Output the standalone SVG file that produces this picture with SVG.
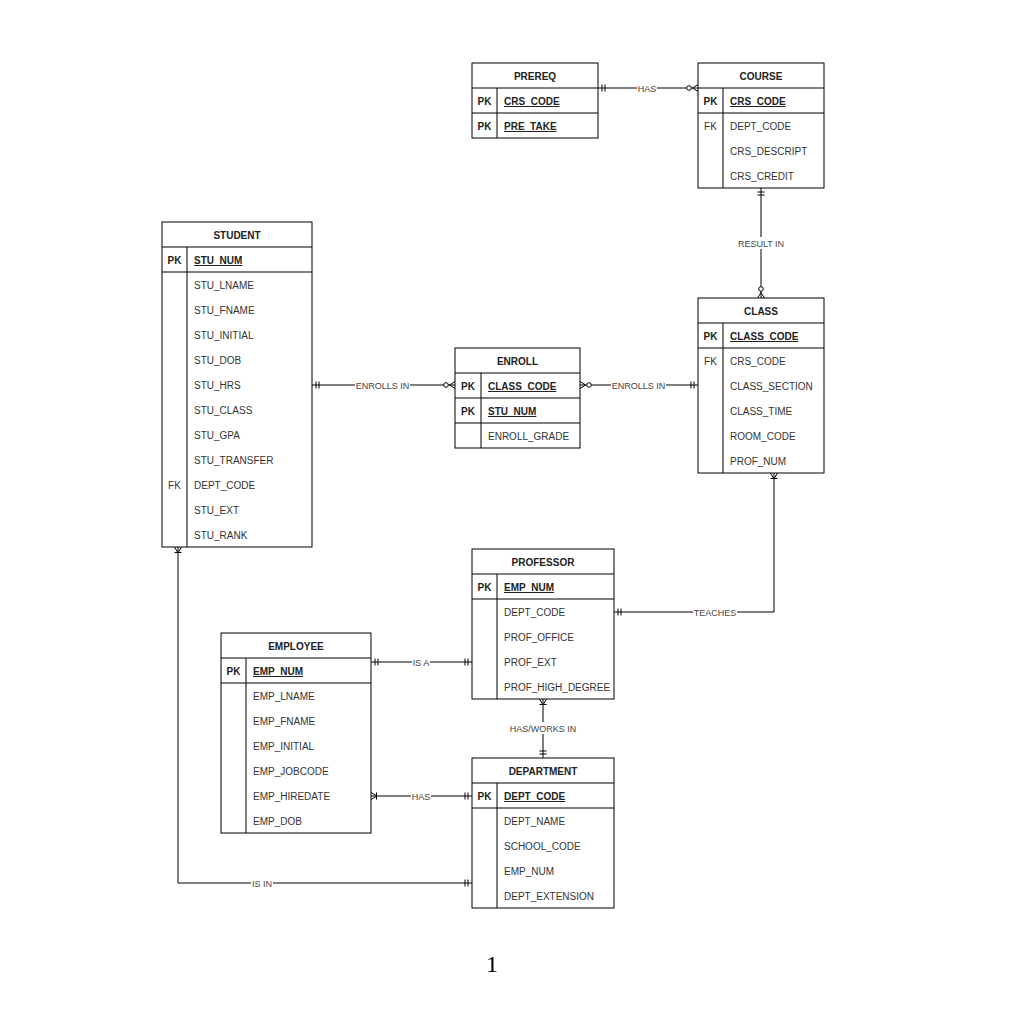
<svg xmlns="http://www.w3.org/2000/svg" width="1022" height="1024" viewBox="0 0 1022 1024">
<style>
.box{fill:#fff;stroke:#000;stroke-width:1}
.ln{stroke:#000;stroke-width:1;fill:none}
.h{font-family:"Liberation Sans",Arial,sans-serif;font-size:10px;font-weight:bold;fill:#222;text-anchor:middle}
.k{font-family:"Liberation Sans",Arial,sans-serif;font-size:10px;font-weight:bold;fill:#222;text-anchor:middle}
.f{font-family:"Liberation Sans",Arial,sans-serif;font-size:10px;fill:#333;text-anchor:middle}
.t{font-family:"Liberation Sans",Arial,sans-serif;font-size:10px;fill:#333}
.pk{font-family:"Liberation Sans",Arial,sans-serif;font-size:10px;fill:#222;font-weight:bold;text-decoration:underline}
.edge{stroke:#000;stroke-width:1;fill:none}
.lb{font-family:"Liberation Sans",Arial,sans-serif;font-size:9px;fill:#444;text-anchor:middle}
.lbg{fill:#fff;stroke:none}
.m{stroke:#000;stroke-width:1;fill:none}
</style>
<defs>
<marker id="one" markerUnits="userSpaceOnUse" viewBox="-15 -7 16 14" markerWidth="16" markerHeight="14" refX="0" refY="0" orient="auto-start-reverse" overflow="visible">
<path class="m" d="M-4,-3.5V3.5M-7,-3.5V3.5"/>
</marker>
<marker id="zmany" markerUnits="userSpaceOnUse" viewBox="-15 -7 16 14" markerWidth="16" markerHeight="14" refX="0" refY="0" orient="auto-start-reverse" overflow="visible">
<path class="m" d="M-5.5,0L0,-3.5M-5.5,0L0,3.5"/>
<circle cx="-9" cy="0" r="2.3" fill="#fff" stroke="#000" stroke-width="1"/>
</marker>
<marker id="omany" markerUnits="userSpaceOnUse" viewBox="-15 -7 16 14" markerWidth="16" markerHeight="14" refX="0" refY="0" orient="auto-start-reverse" overflow="visible">
<path class="m" d="M-6,0L0,-3.5M-6,0L0,3.5M-5.5,-3.5V3.5"/>
</marker>
</defs>
<rect width="1022" height="1024" fill="#fff"/>

<g id="connectors">
<path class="edge" d="M598,88H698" marker-start="url(#one)" marker-end="url(#zmany)"/>
<rect class="lbg" x="637" y="82" width="20" height="12"/>
<text class="lb" x="647" y="91.5">HAS</text>

<path class="edge" d="M761,188V298" marker-start="url(#one)" marker-end="url(#zmany)"/>
<rect class="lbg" x="736" y="237" width="50" height="12"/>
<text class="lb" x="761" y="246.5">RESULT IN</text>

<path class="edge" d="M312,385H455" marker-start="url(#one)" marker-end="url(#zmany)"/>
<rect class="lbg" x="355" y="379" width="55" height="12"/>
<text class="lb" x="382.5" y="388.5">ENROLLS IN</text>

<path class="edge" d="M580,385H698" marker-start="url(#zmany)" marker-end="url(#one)"/>
<rect class="lbg" x="611" y="379" width="55" height="12"/>
<text class="lb" x="638.5" y="388.5">ENROLLS IN</text>

<path class="edge" d="M774,473V612H614" marker-start="url(#omany)" marker-end="url(#one)"/>
<rect class="lbg" x="693" y="606" width="44" height="12"/>
<text class="lb" x="715" y="615.5">TEACHES</text>

<path class="edge" d="M371,662H472" marker-start="url(#one)" marker-end="url(#one)"/>
<rect class="lbg" x="412" y="656" width="18" height="12"/>
<text class="lb" x="421" y="665.5">IS A</text>

<path class="edge" d="M543,699V758" marker-start="url(#omany)" marker-end="url(#one)"/>
<rect class="lbg" x="509" y="722" width="68" height="12"/>
<text class="lb" x="543" y="731.5">HAS/WORKS IN</text>

<path class="edge" d="M371,796H472" marker-start="url(#omany)" marker-end="url(#one)"/>
<rect class="lbg" x="411" y="790" width="20" height="12"/>
<text class="lb" x="421" y="799.5">HAS</text>

<path class="edge" d="M178,547V883H472" marker-start="url(#omany)" marker-end="url(#one)"/>
<rect class="lbg" x="251" y="877" width="22" height="12"/>
<text class="lb" x="262" y="886.5">IS IN</text>
</g>

<g id="prereq">
<rect class="box" x="472" y="63" width="126" height="75"/>
<path class="ln" d="M472,88H598M472,113H598M497,88V138"/>
<text class="h" x="535" y="80">PREREQ</text>
<text class="k" x="484.5" y="105">PK</text><text class="pk" x="504" y="105">CRS_CODE</text>
<text class="k" x="484.5" y="130">PK</text><text class="pk" x="504" y="130">PRE_TAKE</text>
</g>

<g id="course">
<rect class="box" x="698" y="63" width="126" height="125"/>
<path class="ln" d="M698,88H824M698,113H824M723,88V188"/>
<text class="h" x="761" y="80">COURSE</text>
<text class="k" x="710.5" y="105">PK</text><text class="pk" x="730" y="105">CRS_CODE</text>
<text class="f" x="710.5" y="130">FK</text><text class="t" x="730" y="130">DEPT_CODE</text>
<text class="t" x="730" y="155">CRS_DESCRIPT</text>
<text class="t" x="730" y="180">CRS_CREDIT</text>
</g>

<g id="student">
<rect class="box" x="162" y="222" width="150" height="325"/>
<path class="ln" d="M162,247H312M162,272H312M187,247V547"/>
<text class="h" x="237" y="239">STUDENT</text>
<text class="k" x="174.5" y="264">PK</text><text class="pk" x="194" y="264">STU_NUM</text>
<text class="t" x="194" y="289">STU_LNAME</text>
<text class="t" x="194" y="314">STU_FNAME</text>
<text class="t" x="194" y="339">STU_INITIAL</text>
<text class="t" x="194" y="364">STU_DOB</text>
<text class="t" x="194" y="389">STU_HRS</text>
<text class="t" x="194" y="414">STU_CLASS</text>
<text class="t" x="194" y="439">STU_GPA</text>
<text class="t" x="194" y="464">STU_TRANSFER</text>
<text class="f" x="174.5" y="489">FK</text><text class="t" x="194" y="489">DEPT_CODE</text>
<text class="t" x="194" y="514">STU_EXT</text>
<text class="t" x="194" y="539">STU_RANK</text>
</g>

<g id="enroll">
<rect class="box" x="455" y="348" width="125" height="100"/>
<path class="ln" d="M455,373H580M455,398H580M455,423H580M481,373V448"/>
<text class="h" x="517.5" y="365">ENROLL</text>
<text class="k" x="468" y="390">PK</text><text class="pk" x="488" y="390">CLASS_CODE</text>
<text class="k" x="468" y="415">PK</text><text class="pk" x="488" y="415">STU_NUM</text>
<text class="t" x="488" y="440">ENROLL_GRADE</text>
</g>

<g id="class">
<rect class="box" x="698" y="298" width="126" height="175"/>
<path class="ln" d="M698,323H824M698,348H824M723,323V473"/>
<text class="h" x="761" y="315">CLASS</text>
<text class="k" x="710.5" y="340">PK</text><text class="pk" x="730" y="340">CLASS_CODE</text>
<text class="f" x="710.5" y="365">FK</text><text class="t" x="730" y="365">CRS_CODE</text>
<text class="t" x="730" y="390">CLASS_SECTION</text>
<text class="t" x="730" y="415">CLASS_TIME</text>
<text class="t" x="730" y="440">ROOM_CODE</text>
<text class="t" x="730" y="465">PROF_NUM</text>
</g>

<g id="professor">
<rect class="box" x="472" y="549" width="142" height="150"/>
<path class="ln" d="M472,574H614M472,599H614M497,574V699"/>
<text class="h" x="543" y="566">PROFESSOR</text>
<text class="k" x="484.5" y="591">PK</text><text class="pk" x="504" y="591">EMP_NUM</text>
<text class="t" x="504" y="616">DEPT_CODE</text>
<text class="t" x="504" y="641">PROF_OFFICE</text>
<text class="t" x="504" y="666">PROF_EXT</text>
<text class="t" x="504" y="691">PROF_HIGH_DEGREE</text>
</g>

<g id="employee">
<rect class="box" x="221" y="633" width="150" height="200"/>
<path class="ln" d="M221,658H371M221,683H371M246,658V833"/>
<text class="h" x="296" y="650">EMPLOYEE</text>
<text class="k" x="233.5" y="675">PK</text><text class="pk" x="253" y="675">EMP_NUM</text>
<text class="t" x="253" y="700">EMP_LNAME</text>
<text class="t" x="253" y="725">EMP_FNAME</text>
<text class="t" x="253" y="750">EMP_INITIAL</text>
<text class="t" x="253" y="775">EMP_JOBCODE</text>
<text class="t" x="253" y="800">EMP_HIREDATE</text>
<text class="t" x="253" y="825">EMP_DOB</text>
</g>

<g id="department">
<rect class="box" x="472" y="758" width="142" height="150"/>
<path class="ln" d="M472,783H614M472,808H614M497,783V908"/>
<text class="h" x="543" y="775">DEPARTMENT</text>
<text class="k" x="484.5" y="800">PK</text><text class="pk" x="504" y="800">DEPT_CODE</text>
<text class="t" x="504" y="825">DEPT_NAME</text>
<text class="t" x="504" y="850">SCHOOL_CODE</text>
<text class="t" x="504" y="875">EMP_NUM</text>
<text class="t" x="504" y="900">DEPT_EXTENSION</text>
</g>

<text x="492" y="972" font-family="'Liberation Serif','Times New Roman',serif" font-size="24" fill="#000" text-anchor="middle">1</text>
</svg>
